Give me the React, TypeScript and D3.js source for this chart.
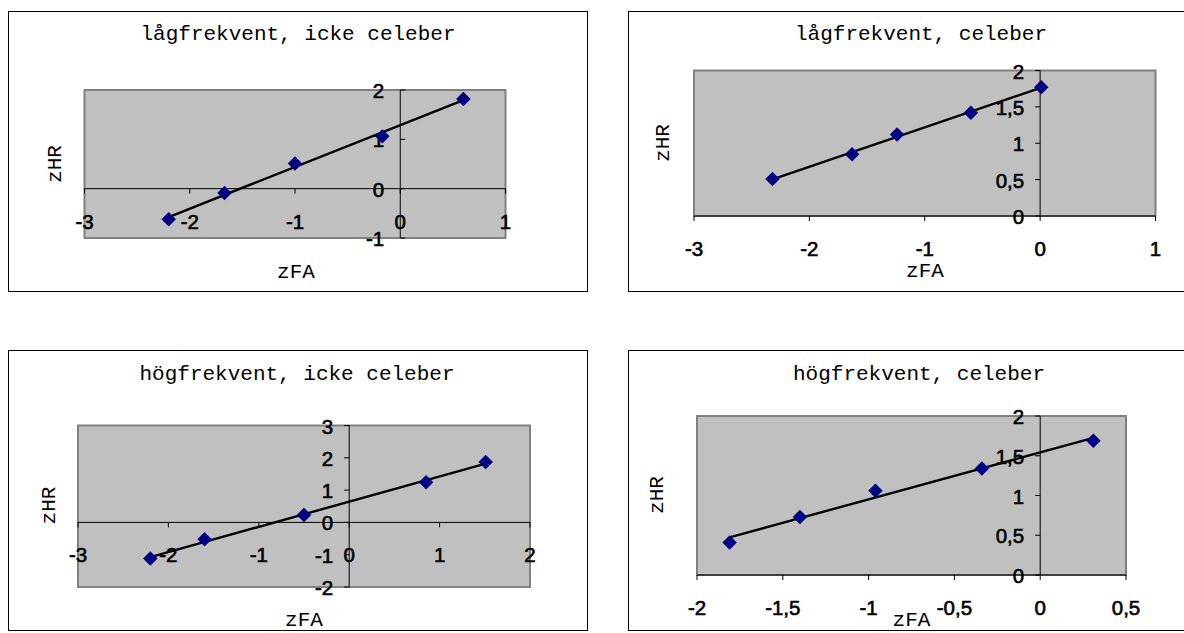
import React from 'react';
import * as d3 from 'd3';

// titles of the four charts
const titles = [
  'lågfrekvent, icke celeber',
  'lågfrekvent, celeber',
  'högfrekvent, icke celeber',
  'högfrekvent, celeber',
];

// zFA / zHR
const zfaLagIcke = [-2.2, -1.67, -1.0, -0.17, 0.6];
const zhrLagIcke = [-0.62, -0.09, 0.51, 1.06, 1.82];
const zfaLagCel = [-2.32, -1.63, -1.24, -0.6, 0.01];
const zhrLagCel = [0.51, 0.85, 1.12, 1.42, 1.77];
const zfaHogIcke = [-2.2, -1.6, -0.5, 0.85, 1.51];
const zhrHogIcke = [-1.12, -0.52, 0.23, 1.24, 1.87];
const zfaHogCel = [-1.81, -1.4, -0.96, -0.34, 0.31];
const zhrHogCel = [0.41, 0.73, 1.06, 1.34, 1.69];

// tick values
const xTicksLagIcke = [-3, -2, -1, 0, 1];
const yTicksLagIcke = [-1, 0, 1, 2];
const xTicksLagCel = [-3, -2, -1, 0, 1];
const yTicksLagCel = [0, 0.5, 1, 1.5, 2];
const xTicksHogIcke = [-3, -2, -1, 0, 1, 2];
const yTicksHogIcke = [-2, -1, 0, 1, 2, 3];
const xTicksHogCel = [-2, -1.5, -1, -0.5, 0, 0.5];
const yTicksHogCel = [0, 0.5, 1, 1.5, 2];

const series = [
  { x: zfaLagIcke, y: zhrLagIcke, xt: xTicksLagIcke, yt: yTicksLagIcke },
  { x: zfaLagCel, y: zhrLagCel, xt: xTicksLagCel, yt: yTicksLagCel },
  { x: zfaHogIcke, y: zhrHogIcke, xt: xTicksHogIcke, yt: yTicksHogIcke },
  { x: zfaHogCel, y: zhrHogCel, xt: xTicksHogCel, yt: yTicksHogCel },
];

// where each chart sits on the page
const layouts = [
  { box: [8.5, 11.5], plot: [84.5, 90, 505.5, 238], title: [298, 40], yTitle: [61, 164], xTitle: [296, 277.5], tickDir: 1 },
  { box: [628.5, 11.5], plot: [694, 70.5, 1155.5, 216], title: [921, 40], yTitle: [669, 143], xTitle: [925, 277], tickDir: -1 },
  { box: [8.5, 350.5], plot: [78, 425.5, 530, 587], title: [297, 380], yTitle: [54.5, 505.5], xTitle: [304, 626], tickDir: -1 },
  { box: [628.5, 350.5], plot: [697, 416, 1126, 575], title: [919, 380], yTitle: [662.5, 495], xTitle: [911.5, 626], tickDir: -1 },
];

const mono = '"Liberation Mono", "Courier New", monospace';
const sans = '"Liberation Sans", Arial, sans-serif';
const fmt = (v: number) => String(v).replace('.', ',');

const fit = (xs: number[], ys: number[]) => {
  const mx = d3.mean(xs) as number;
  const my = d3.mean(ys) as number;
  const sxy = d3.sum(xs, (x, i) => (x - mx) * (ys[i] - my));
  const sxx = d3.sum(xs, (x) => (x - mx) ** 2);
  const b = sxy / sxx;
  return (x: number) => my + b * (x - mx);
};

const diamond = d3.symbol(d3.symbolSquare, 105)();

const Panel = ({ idx }: { idx: number }) => {
  const s = series[idx];
  const lay = layouts[idx];
  const [l, t, r, b] = lay.plot;

  const xScale = d3.scaleLinear()
    .domain(d3.extent(s.xt) as [number, number])
    .range([l, r]);
  const yScale = d3.scaleLinear()
    .domain(d3.extent(s.yt) as [number, number])
    .range([b, t]);

  const x0 = xScale(0);
  const y0 = yScale(Math.max(0, s.yt[0]));
  const trend = fit(s.x, s.y);
  const [xmin, xmax] = d3.extent(s.x) as [number, number];
  const line = d3.line<number>()
    .x((d) => xScale(d))
    .y((d) => yScale(trend(d)));

  const tickText = {
    fontFamily: sans, fontSize: 20.5, fill: '#000', stroke: '#000', strokeWidth: 0.6,
  };

  return (
    <g>
      <rect x={lay.box[0]} y={lay.box[1]} width={579} height={280} fill="#fff" stroke="#000" strokeWidth={1} />
      <text x={lay.title[0]} y={lay.title[1]} textAnchor="middle" fontFamily={mono} fontSize={21} fill="#000">
        {titles[idx]}
      </text>
      <rect x={l} y={t} width={r - l} height={b - t} fill="#C0C0C0" stroke="#808080" strokeWidth={2} />
      {/* axes */}
      <line x1={l} x2={r} y1={y0} y2={y0} stroke="#000" strokeWidth={1} />
      <line x1={x0} x2={x0} y1={t} y2={b} stroke="#000" strokeWidth={1} />
      {s.xt.map((v) => (
        <g key={`x${v}`}>
          <line x1={xScale(v)} x2={xScale(v)} y1={y0} y2={y0 + 5} stroke="#000" />
          <text x={xScale(v)} y={y0 + 40} textAnchor="middle" {...tickText}>
            {fmt(v)}
          </text>
        </g>
      ))}
      {s.yt.map((v) => (
        <g key={`y${v}`}>
          <line x1={x0} x2={x0 + 5 * lay.tickDir} y1={yScale(v)} y2={yScale(v)} stroke="#000" />
          <text x={x0 - 16} y={yScale(v) + 8} textAnchor="end" {...tickText}>
            {fmt(v)}
          </text>
        </g>
      ))}
      <path d={line([xmin, xmax]) as string} fill="none" stroke="#000" strokeWidth={2.4} />
      {s.x.map((v, i) => (
        <path
          key={`p${v}`}
          d={diamond as string}
          transform={`translate(${xScale(v)},${yScale(s.y[i])}) rotate(45)`}
          fill="#000080"
        />
      ))}
      <text
        transform={`translate(${lay.yTitle[0]},${lay.yTitle[1]}) rotate(-90)`}
        textAnchor="middle"
        fontFamily={mono}
        fontSize={21}
        fill="#000"
      >
        zHR
      </text>
      <text x={lay.xTitle[0]} y={lay.xTitle[1]} textAnchor="middle" fontFamily={mono} fontSize={21} fill="#000">
        zFA
      </text>
    </g>
  );
};

export default function App() {
  return (
    <div style={{ position: 'absolute', left: 0, top: 0 }}>
      <svg width={1184} height={633} style={{ display: 'block', background: '#fff' }}>
        {layouts.map((d, i) => <Panel key={titles[i]} idx={i} />)}
      </svg>
    </div>
  );
}
